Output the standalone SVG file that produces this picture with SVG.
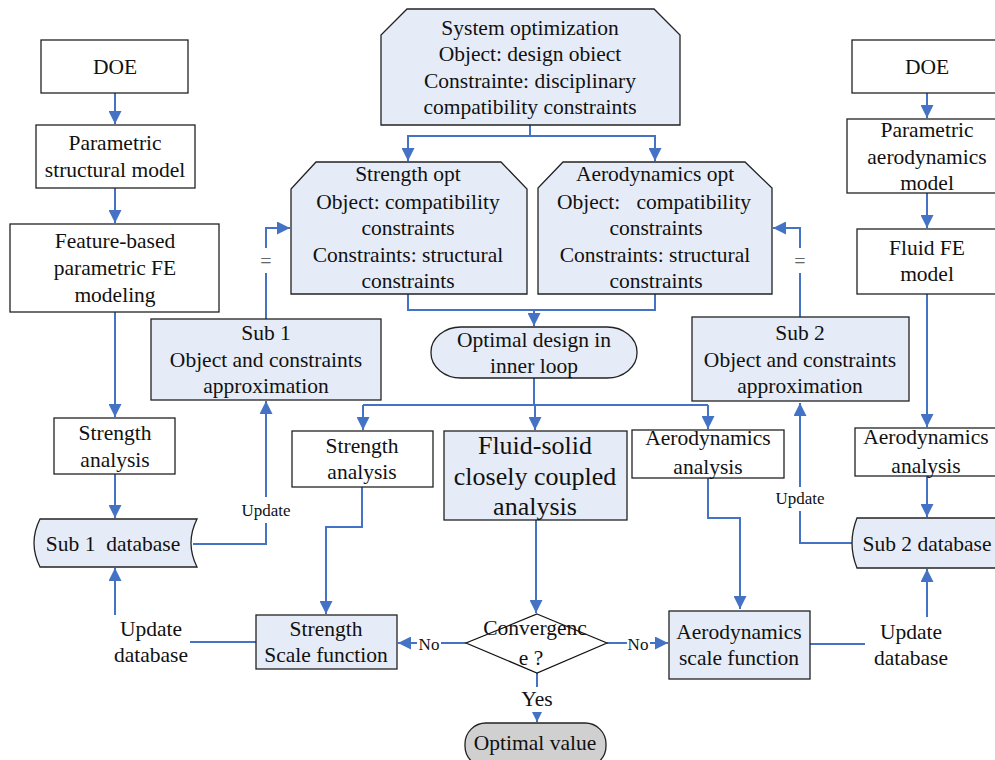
<svg xmlns="http://www.w3.org/2000/svg" width="995" height="760" viewBox="0 0 995 760">
<defs>
<style>
.box{fill:#ffffff;stroke:#222;stroke-width:1.3}
.fill{fill:#e6ecf7;stroke:#222;stroke-width:1.3}
.grey{fill:#d0d0d0;stroke:#222;stroke-width:1.3}
.dia{fill:#ffffff;stroke:#111;stroke-width:1.2}
text{font-family:"Liberation Serif","Times New Roman",serif;font-size:21.5px;fill:#111;text-anchor:middle}
.big{font-size:26px}
.sm{font-size:17px}
.eq{font-size:20px;fill:#666}
.c{fill:none;stroke:#4472c4;stroke-width:2}
</style>
<marker id="ah" viewBox="0 0 10 10" refX="10" refY="5" markerWidth="13" markerHeight="13" markerUnits="userSpaceOnUse" orient="auto">
<path d="M0,0 L10,5 L0,10 Z" fill="#4472c4"/>
</marker>
<marker id="ahs" viewBox="0 0 10 10" refX="10" refY="5" markerWidth="10" markerHeight="10" markerUnits="userSpaceOnUse" orient="auto">
<path d="M0,0 L10,5 L0,10 Z" fill="#4472c4"/>
</marker>
</defs>
<rect width="995" height="760" fill="#ffffff"/>

<g id="connectors">
<!-- left column -->
<path class="c" d="M115,93 V124" marker-end="url(#ah)"/>
<path class="c" d="M115,188 V223" marker-end="url(#ah)"/>
<path class="c" d="M115,312 V417" marker-end="url(#ah)"/>
<path class="c" d="M115,474 V518" marker-end="url(#ah)"/>
<path class="c" d="M115,615 V568" marker-end="url(#ah)"/>
<path class="c" d="M190,642 H256"/>
<path class="c" d="M193,544 H266 V523"/>
<path class="c" d="M266,497 V401" marker-end="url(#ah)"/>
<path class="c" d="M266,319 V273"/>
<path class="c" d="M266,248 V228 H290" marker-end="url(#ah)"/>
<!-- top -->
<path class="c" d="M530,125 V136 H408 V161" marker-end="url(#ah)"/>
<path class="c" d="M530,136 H655 V161" marker-end="url(#ah)"/>
<path class="c" d="M408,294 V310 H655 V294"/>
<path class="c" d="M534,310 V326" marker-end="url(#ah)"/>
<path class="c" d="M534,378 V405"/>
<path class="c" d="M363,405 H708"/>
<path class="c" d="M363,405 V430" marker-end="url(#ah)"/>
<path class="c" d="M535,405 V430" marker-end="url(#ah)"/>
<path class="c" d="M708,405 V429" marker-end="url(#ah)"/>
<path class="c" d="M362,487 V527 H326 V614" marker-end="url(#ah)"/>
<path class="c" d="M536,520 V613" marker-end="url(#ah)"/>
<path class="c" d="M708,478 V518 H740 V609" marker-end="url(#ah)"/>
<path class="c" d="M466,643 H441"/>
<path class="c" d="M417,643 H398" marker-end="url(#ah)"/>
<path class="c" d="M607,643 H627"/>
<path class="c" d="M650,643 H668" marker-end="url(#ah)"/>
<path class="c" d="M537,673 V687"/>
<path class="c" d="M537,712 V722" marker-end="url(#ahs)"/>
<!-- right column -->
<path class="c" d="M927,93 V118" marker-end="url(#ah)"/>
<path class="c" d="M927,193 V228" marker-end="url(#ah)"/>
<path class="c" d="M927,294 V427" marker-end="url(#ah)"/>
<path class="c" d="M927,476 V517" marker-end="url(#ah)"/>
<path class="c" d="M927,617 V569" marker-end="url(#ah)"/>
<path class="c" d="M810,644 H865"/>
<path class="c" d="M852,543 H800 V511"/>
<path class="c" d="M800,487 V403" marker-end="url(#ah)"/>
<path class="c" d="M800,317 V273"/>
<path class="c" d="M800,248 V228 H773" marker-end="url(#ah)"/>
<text class="sm" x="266" y="516">Update</text>
<text class="sm" x="800" y="504">Update</text>
<text class="eq" x="266" y="268">=</text>
<text class="eq" x="800" y="268">=</text>
<text class="sm" x="429" y="650">No</text>
<text class="sm" x="638" y="650">No</text>
<text x="537" y="706">Yes</text>
<text x="151" y="636">Update</text>
<text x="151" y="662">database</text>
<text x="911" y="639">Update</text>
<text x="911" y="665">database</text>
</g>

<g id="doe-left">
<rect class="box" x="41" y="40" width="147" height="53"/>
<text x="115" y="74">DOE</text>
</g>
<g id="param-struct">
<rect class="box" x="36" y="125" width="159" height="63"/>
<text x="115" y="150">Parametric</text>
<text x="115" y="177">structural model</text>
</g>
<g id="feature-fe">
<rect class="box" x="10" y="224" width="209" height="88"/>
<text x="115" y="248">Feature-based</text>
<text x="115" y="275">parametric FE</text>
<text x="115" y="302">modeling</text>
</g>
<g id="strength-analysis-left">
<rect class="box" x="54" y="418" width="121" height="56"/>
<text x="115" y="440">Strength</text>
<text x="115" y="467">analysis</text>
</g>
<g id="sub1-db">
<path class="fill" d="M40,519 H197 Q185,543 197,567 H40 Q28,543 40,519 Z"/>
<text x="113" y="551" xml:space="preserve">Sub 1  database</text>
</g>
<g id="sub1">
<rect class="fill" x="151" y="319" width="230" height="81"/>
<text x="266" y="340">Sub 1</text>
<text x="266" y="367">Object and constraints</text>
<text x="266" y="393">approximation</text>
</g>
<g id="system-opt">
<path class="fill" d="M407,9 H654 L680,35 V125 H381 V35 Z"/>
<text x="530" y="35">System optimization</text>
<text x="530" y="61">Object: design obiect</text>
<text x="530" y="88">Constrainte: disciplinary</text>
<text x="530" y="114">compatibility constraints</text>
</g>
<g id="strength-opt">
<path class="fill" d="M316,162 H501 L527,189 V294 H291 V189 Z"/>
<text x="408" y="181">Strength opt</text>
<text x="408" y="209">Object: compatibility</text>
<text x="408" y="235">constraints</text>
<text x="408" y="262">Constraints: structural</text>
<text x="408" y="288">constraints</text>
</g>
<g id="aero-opt">
<path class="fill" d="M563,162 H745 L772,188 V294 H538 V188 Z"/>
<text x="655" y="181">Aerodynamics opt</text>
<text x="654" y="209" xml:space="preserve">Object:   compatibility</text>
<text x="656" y="235">constraints</text>
<text x="655" y="262">Constraints: structural</text>
<text x="656" y="288">constraints</text>
</g>
<g id="optimal-design">
<rect class="fill" x="431" y="327" width="206" height="51" rx="30" ry="25"/>
<text x="534" y="347">Optimal design in</text>
<text x="534" y="373">inner loop</text>
</g>
<g id="strength-analysis-mid">
<rect class="box" x="292" y="431" width="141" height="56"/>
<text x="362" y="453">Strength</text>
<text x="362" y="479">analysis</text>
</g>
<g id="fluid-solid">
<rect class="fill" x="444" y="431" width="183" height="89"/>
<text class="big" x="535" y="454">Fluid-solid</text>
<text class="big" x="535" y="485">closely coupled</text>
<text class="big" x="535" y="515">analysis</text>
</g>
<g id="aero-analysis-mid">
<rect class="box" x="632" y="430" width="152" height="48"/>
<text x="708" y="445">Aerodynamics</text>
<text x="708" y="474">analysis</text>
</g>
<g id="convergence">
<path class="dia" d="M537,614 L607,643 L537,673 L466,643 Z"/>
<text x="535" y="635">Convergenc</text>
<text x="531" y="665">e ?</text>
</g>
<g id="strength-scale">
<rect class="fill" x="256" y="615" width="141" height="54"/>
<text x="326" y="636">Strength</text>
<text x="326" y="662">Scale function</text>
</g>
<g id="aero-scale">
<rect class="fill" x="669" y="611" width="141" height="68"/>
<text x="739" y="639">Aerodynamics</text>
<text x="739" y="665">scale function</text>
</g>
<g id="optimal-value">
<rect class="grey" x="465" y="723" width="141" height="44" rx="21" ry="21"/>
<text x="535" y="750">Optimal value</text>
</g>
<g id="doe-right">
<rect class="box" x="852" y="40" width="150" height="53"/>
<text x="927" y="74">DOE</text>
</g>
<g id="param-aero">
<rect class="box" x="847" y="119" width="155" height="74"/>
<text x="927" y="137">Parametric</text>
<text x="927" y="164">aerodynamics</text>
<text x="927" y="190">model</text>
</g>
<g id="fluid-fe">
<rect class="box" x="857" y="229" width="145" height="65"/>
<text x="927" y="255">Fluid FE</text>
<text x="927" y="281">model</text>
</g>
<g id="sub2">
<rect class="fill" x="692" y="317" width="217" height="84"/>
<text x="800" y="340">Sub 2</text>
<text x="800" y="367">Object and constraints</text>
<text x="800" y="393">approximation</text>
</g>
<g id="aero-analysis-right">
<rect class="box" x="855" y="428" width="147" height="48"/>
<text x="926" y="444">Aerodynamics</text>
<text x="926" y="473">analysis</text>
</g>
<g id="sub2-db">
<path class="fill" d="M857,518 H1002 V568 H857 Q847,543 857,518 Z"/>
<text x="927" y="551">Sub 2 database</text>
</g>
</svg>
